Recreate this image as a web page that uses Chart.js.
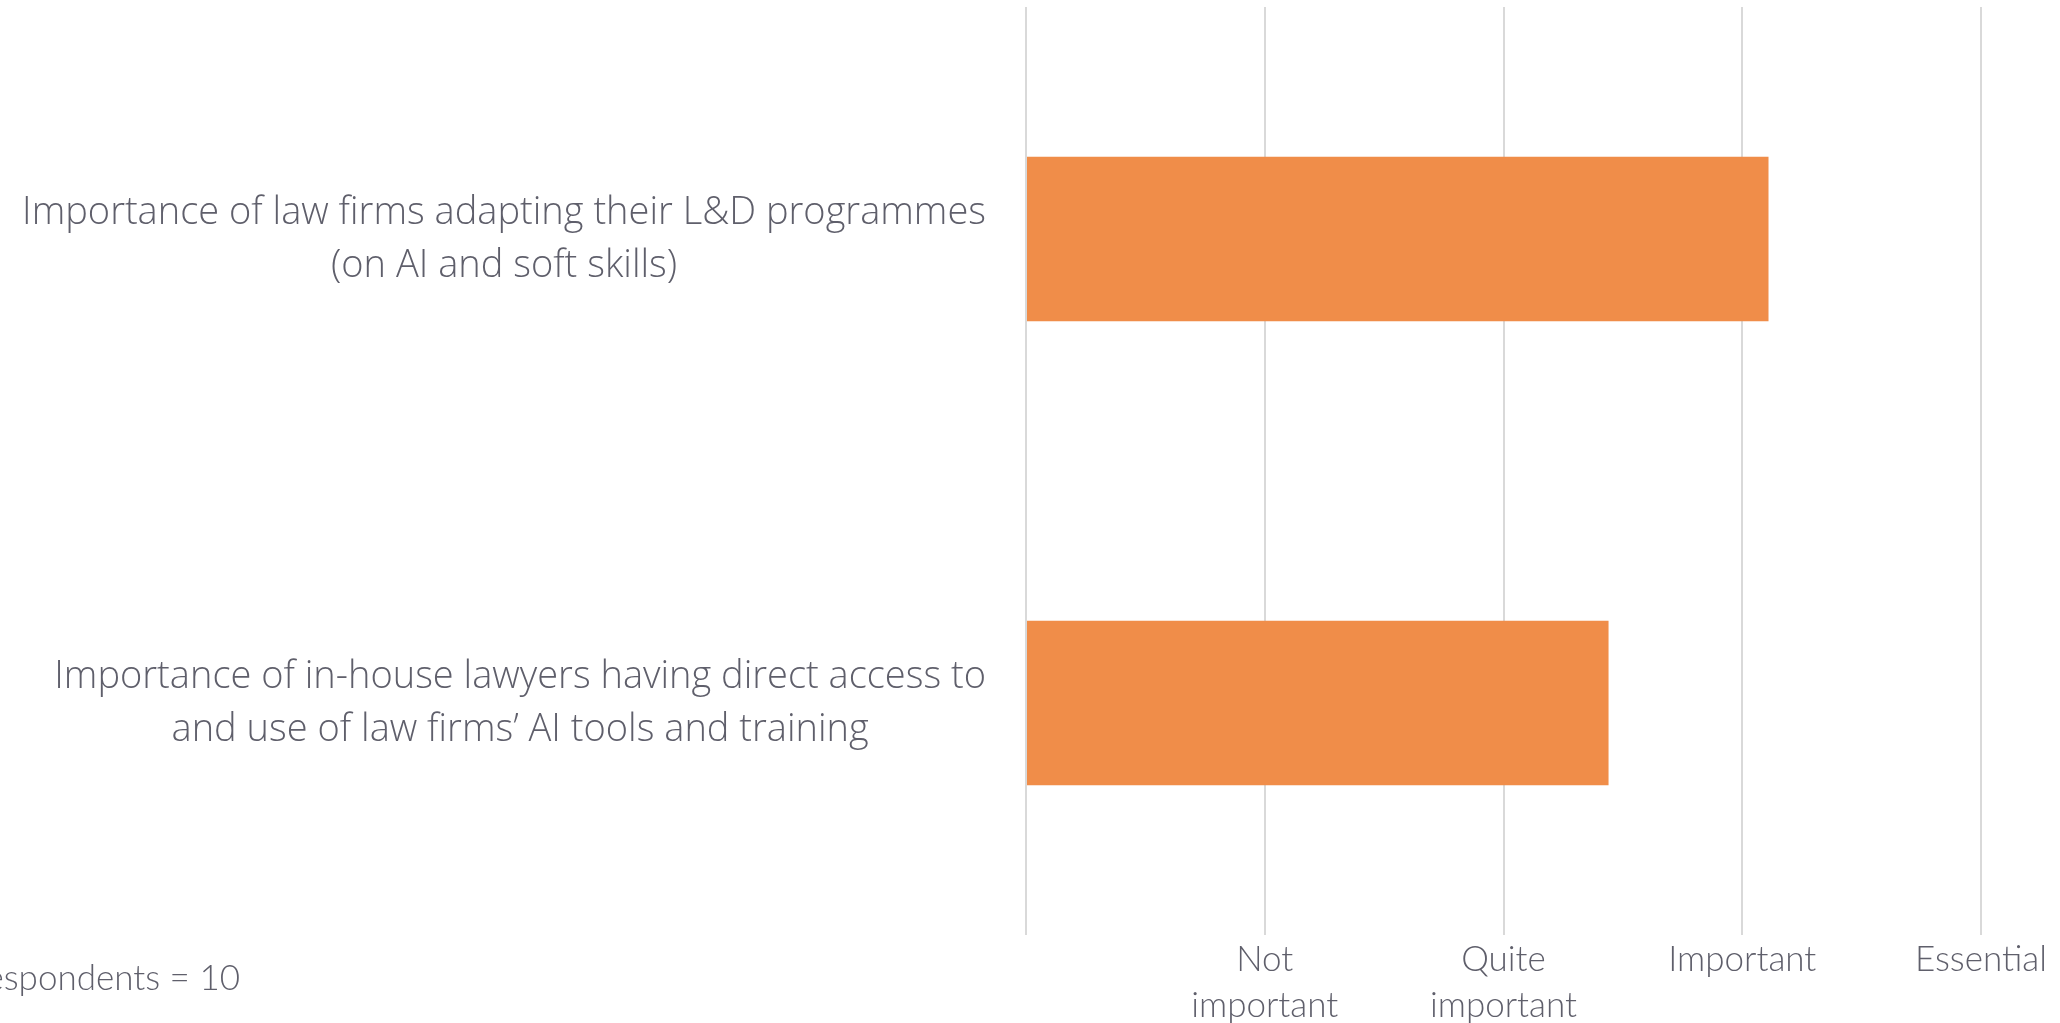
<!DOCTYPE html>
<html>
<head>
<meta charset="utf-8">
<script src="https://cdn.jsdelivr.net/npm/chart.js@4.4.1/dist/chart.umd.min.js"></script>
<style>
  html, body { margin: 0; padding: 0; background: #fff; overflow: hidden; }
  #wrap { position: relative; width: 2060px; height: 1023px; }
  #note {
    position: absolute; right: calc(100% - 240px); top: 955px;
    font-family: Lato, sans-serif; font-weight: 300; font-size: 35px;
    color: #5f5f6b; white-space: nowrap;
  }
</style>
</head>
<body>
<div id="wrap">
  <canvas id="chart" width="2060" height="1023"></canvas>
  <div id="note">Respondents = 10</div>
</div>
<script>
// categories, one entry of text lines per bar
const categories = [
  ['Importance of law firms adapting their L&D programmes', '(on AI and soft skills)'],
  ['Importance of in-house lawyers having direct access to', 'and use of law firms\u2019 AI tools and training']
];
const scores = [3.11, 2.44];
const scaleLabels = ['', ['Not', 'important'], ['Quite', 'important'], 'Important', 'Essential'];

const TEXT_COLOR = '#5f5f6b';
const BAR_COLOR = '#F08D49';
const GRID_COLOR = '#d9d9d9';
const FONT = 'Lato, sans-serif';

Chart.defaults.animation = false;
Chart.defaults.font.family = FONT;

// y labels: each block right aligned to the axis, lines centred inside the block
const categoryLabels = {
  id: 'categoryLabels',
  afterDraw(chart) {
    const ctx = chart.ctx;
    const yScale = chart.scales.y;
    const right = 986;
    const lineGap = 53;
    ctx.save();
    ctx.font = '300 38px "Open Sans", sans-serif';
    ctx.fillStyle = TEXT_COLOR;
    ctx.textAlign = 'center';
    ctx.textBaseline = 'middle';
    categories.forEach((lines, i) => {
      const yc = yScale.getPixelForValue(i) + 1;
      const w = Math.max(...lines.map(l => ctx.measureText(l).width));
      const cx = right - w / 2;
      lines.forEach((line, j) => {
        const y = yc + (j - (lines.length - 1) / 2) * lineGap;
        ctx.fillText(line, cx, y);
      });
    });
    ctx.restore();
  }
};

new Chart(document.getElementById('chart'), {
  type: 'bar',
  data: {
    labels: categories,
    datasets: [{
      data: scores,
      backgroundColor: BAR_COLOR,
      borderWidth: 0,
      categoryPercentage: 0.355,
      barPercentage: 1
    }]
  },
  options: {
    indexAxis: 'y',
    responsive: false,
    layout: { padding: { top: 7, right: 79, left: 0, bottom: 0 } },
    plugins: {
      legend: { display: false },
      tooltip: { enabled: false }
    },
    scales: {
      x: {
        min: 0,
        max: 4,
        afterFit: s => { s.height = 88; s.paddingLeft = 0; s.paddingRight = 0; },
        grid: { color: GRID_COLOR, lineWidth: 2, drawTicks: false },
        border: { display: false },
        ticks: {
          stepSize: 1,
          maxRotation: 0,
          autoSkip: false,
          padding: 2,
          color: TEXT_COLOR,
          font: { size: 35, weight: 300, lineHeight: '46px' },
          callback: v => scaleLabels[v]
        }
      },
      y: {
        afterFit: s => { s.width = 1026; },
        grid: { display: false },
        border: { display: false },
        ticks: { display: false }
      }
    }
  },
  plugins: [categoryLabels]
});
</script>
</body>
</html>
